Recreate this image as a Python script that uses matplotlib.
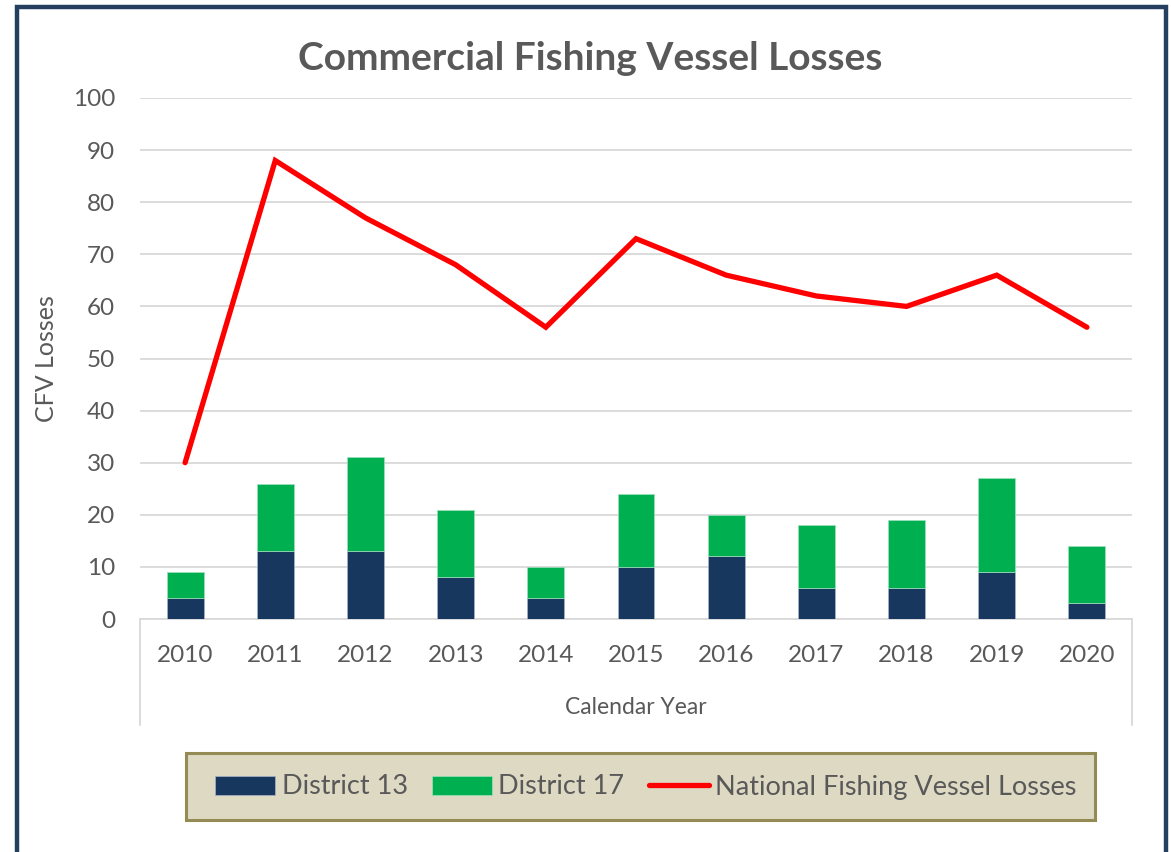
import matplotlib
matplotlib.use("Agg")
import matplotlib.pyplot as plt
from matplotlib.patches import Rectangle, Patch
from matplotlib.lines import Line2D
import numpy as np

years = ["2010", "2011", "2012", "2013", "2014", "2015", "2016", "2017", "2018", "2019", "2020"]
district13 = [4, 13, 13, 8, 4, 10, 12, 6, 6, 9, 3]
district17 = [5, 13, 18, 13, 6, 14, 8, 12, 13, 18, 11]
national = [30, 88, 77, 68, 56, 73, 66, 62, 60, 66, 56]

plt.rcParams['font.family'] = ['Lato', 'DejaVu Sans']
W, H = 1171, 852
fig = plt.figure(figsize=(W / 100, H / 100), dpi=100)
fig.patch.set_facecolor('white')

def fx(px):
    return px / W

def fy(py):
    return 1 - py / H

TXT = '#595959'
GRID = '#D9D9D9'

ax = fig.add_axes([fx(140), fy(619), fx(1132) - fx(140), fy(98) - fy(619)])
x = np.arange(len(years))
bw = 0.41
ax.bar(x, district13, bw, color='#17375E', edgecolor='#A6B4C8', linewidth=0.5, label='District 13', zorder=3)
ax.bar(x, district17, bw, bottom=district13, color='#00B050', edgecolor='#9FE0BD', linewidth=0.5, label='District 17', zorder=3)
ax.plot(x, national, color='#FF0000', linewidth=3.8, solid_capstyle='round', solid_joinstyle='miter', zorder=4,
        label='National Fishing Vessel Losses')

ax.set_xlim(-0.5, len(years) - 0.5)
ax.set_ylim(0, 100)
ax.set_yticks(np.arange(0, 101, 10))
ax.yaxis.grid(True, color=GRID, linewidth=1.3, zorder=0)
ax.set_axisbelow(True)
for s in ['top', 'right', 'left']:
    ax.spines[s].set_visible(False)
ax.spines['bottom'].set_color(GRID)
ax.spines['bottom'].set_linewidth(1.3)
ax.tick_params(axis='y', length=0, pad=18, labelsize=17.5, labelcolor=TXT)
ax.set_xticks(x)
ax.set_xticklabels(years)
ax.tick_params(axis='x', length=0, pad=19, labelsize=17.5, labelcolor=TXT)
ax.set_facecolor('none')

# category axis box lines
for px in (140, 1132):
    fig.add_artist(Line2D([fx(px), fx(px)], [fy(619), fy(725)], color=GRID, linewidth=1.3))

fig.text(fx(636), fy(707), 'Calendar Year', ha='center', va='center', fontsize=16.5, color=TXT)
fig.text(fx(47), fy(359), 'CFV Losses', ha='center', va='center', rotation=90, fontsize=18, color=TXT)
fig.text(fx(590), fy(59), 'Commercial Fishing Vessel Losses', ha='center', va='center', fontsize=28,
         fontweight='bold', color=TXT)

# legend box
fig.add_artist(Rectangle((fx(186), fy(820)), fx(1095) - fx(186), fy(753) - fy(820),
                         facecolor='#DDD9C3', edgecolor='#948A54', linewidth=2.2))
handles = [Patch(facecolor='#17375E', edgecolor='#A6B4C8', linewidth=0.5),
           Patch(facecolor='#00B050', edgecolor='#9FE0BD', linewidth=0.5),
           Line2D([0], [0], color='#FF0000', linewidth=3.8, solid_capstyle='round')]
labels = ['District 13', 'District 17', 'National Fishing Vessel Losses']
leg = fig.legend(handles, labels, loc='center', bbox_to_anchor=(fx(646), fy(787)), ncol=3, frameon=False,
                 fontsize=19.5, handlelength=2.2, handleheight=0.7, handletextpad=0.25, columnspacing=0.9,
                 labelcolor=TXT)

# outer border
fig.add_artist(Rectangle((fx(17), fy(870)), fx(1166) - fx(17), fy(7) - fy(870),
                         facecolor='none', edgecolor='#243F60', linewidth=3.2))

fig.savefig('out.png', dpi=100)
